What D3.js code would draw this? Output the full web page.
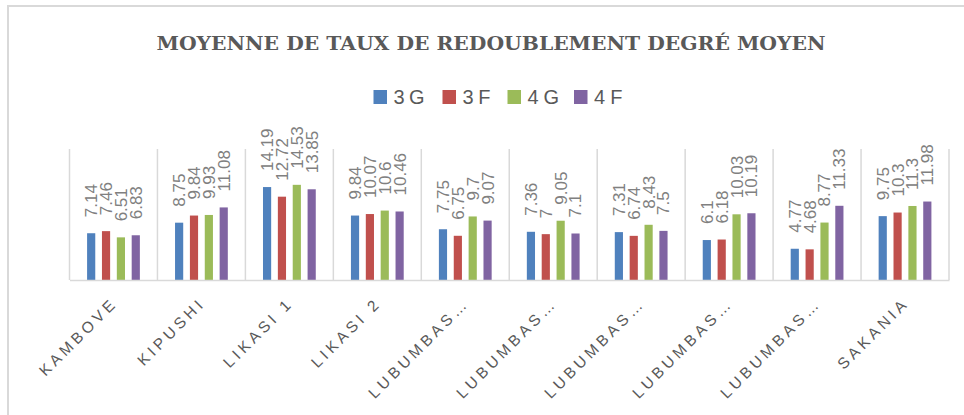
<!DOCTYPE html>
<html>
<head>
<meta charset="utf-8">
<script src="https://cdn.jsdelivr.net/npm/d3@7"></script>
<style>
  body { margin: 0; background: #ffffff; }
</style>
</head>
<body>
<div id="canvas"></div>
<script>
"use strict"

let categories = ["KAMBOVE", "KIPUSHI", "LIKASI 1", "LIKASI 2", "LUBUMBASHI 1",
    "LUBUMBASHI 2", "LUBUMBASHI 3", "LUBUMBASHI 4", "LUBUMBASHI 5", "SAKANIA"]
let seriesNames = ["3 G", "3 F", "4 G", "4 F"]
let values3G = [7.14, 8.75, 14.19, 9.84, 7.75, 7.36, 7.31, 6.1, 4.77, 9.75]
let values3F = [7.46, 9.84, 12.72, 10.07, 6.75, 7, 6.74, 6.18, 4.68, 10.3]
let values4G = [6.51, 9.93, 14.53, 10.6, 9.7, 9.05, 8.43, 10.03, 8.77, 11.3]
let values4F = [6.83, 11.08, 13.85, 10.46, 9.07, 7.1, 7.5, 10.19, 11.33, 11.98]
let colors = ["#4f81bd", "#c0504d", "#9bbb59", "#8064a2"]

let allSeries = [values3G, values3F, values4G, values4F]

let svgWidth = 964
let svgHeight = 415

let drawing = d3.select("#canvas")
    .append("svg")
    .attr("width", svgWidth)
    .attr("height", svgHeight)

let border = drawing.append("rect")
    .attr("x", 8)
    .attr("y", 6)
    .attr("width", svgWidth + 20)
    .attr("height", svgHeight + 20)
    .attr("fill", "white")
    .attr("stroke", "#d9d9d9")
    .attr("stroke-width", 2)

// plot area
let plotLeft = 69.5, plotRight = 949, plotTop = 149, plotBottom = 280

let x0 = d3.scaleBand().domain(categories).range([plotLeft, plotRight]).padding(0)
let x1 = d3.scaleBand().domain(seriesNames)
    .range([x0.bandwidth() * 0.2, x0.bandwidth() * 0.8])
    .paddingInner(0.45)
let y = d3.scaleLinear().domain([0, 20]).range([plotBottom, plotTop])

// category separators
let seps = d3.range(categories.length + 1)
drawing.append("g").selectAll("line")
    .data(seps)
    .join("line")
    .attr("x1", d => plotLeft + d * x0.step())
    .attr("x2", d => plotLeft + d * x0.step())
    .attr("y1", plotTop)
    .attr("y2", plotBottom)
    .attr("stroke", "#d9d9d9")
    .attr("stroke-width", 1.5)

// bars
let groups = drawing.append("g").selectAll("g")
    .data(categories)
    .join("g")
    .attr("transform", d => `translate(${x0(d)},0)`)

groups.selectAll("rect")
    .data((c, i) => seriesNames.map((s, k) => ({ s: s, k: k, v: allSeries[k][i] })))
    .join("rect")
    .attr("x", d => x1(d.s))
    .attr("y", d => y(d.v))
    .attr("width", x1.bandwidth())
    .attr("height", d => y(0) - y(d.v))
    .attr("fill", d => colors[d.k])

// value labels, rotated
groups.selectAll("text")
    .data((c, i) => seriesNames.map((s, k) => ({ s: s, k: k, v: allSeries[k][i] })))
    .join("text")
    .attr("transform", d => `translate(${x1(d.s) + x1.bandwidth() / 2},${y(d.v) - 16}) rotate(-90)`)
    .attr("dy", "0.35em")
    .attr("text-anchor", "start")
    .attr("font-family", "Liberation Sans, Arial, sans-serif")
    .attr("font-size", 17)
    .attr("fill", "#808080")
    .text(d => d.v)

// baseline
let xAxis = drawing.append("g")
    .attr("transform", `translate(0,${plotBottom})`)
    .call(d3.axisBottom(x0).tickSize(0).tickFormat(d => d.length > 10 ? "LUBUMBAS…" : d))

xAxis.select(".domain")
    .attr("stroke", "#d9d9d9")
    .attr("stroke-width", 1.5)

xAxis.selectAll("text")
    .attr("transform", "translate(5,24) rotate(-45)")
    .attr("text-anchor", "end")
    .attr("dy", "0")
    .attr("y", 0)
    .attr("font-family", "Liberation Sans, Arial, sans-serif")
    .attr("font-size", 15.5)
    .attr("letter-spacing", 3.8)
    .attr("fill", "#595959")

// title
let title = drawing.append("text")
    .attr("x", 491)
    .attr("y", 50)
    .attr("text-anchor", "middle")
    .attr("font-family", "DejaVu Serif, serif")
    .attr("font-weight", "bold")
    .attr("font-size", 19)
    .attr("textLength", 669)
    .attr("lengthAdjust", "spacingAndGlyphs")
    .attr("fill", "#595959")
    .text("MOYENNE DE TAUX DE REDOUBLEMENT DEGRÉ MOYEN")

// legend
let legendX = [373.5, 442.5, 507.5, 574]
let legendW = [31, 28, 31.5, 28.5]
let legend = drawing.append("g").selectAll("g")
    .data(seriesNames)
    .join("g")
    .attr("transform", (d, i) => `translate(${legendX[i]},90)`)

legend.append("rect")
    .attr("width", 13.5)
    .attr("height", 14)
    .attr("fill", (d, i) => colors[i])

legend.append("text")
    .attr("x", 20)
    .attr("y", 14)
    .attr("font-family", "Liberation Sans Narrow, Liberation Sans, sans-serif")
    .attr("font-size", 20)
    .attr("textLength", (d, i) => legendW[i])
    .attr("lengthAdjust", "spacing")
    .attr("fill", "#595959")
    .text(d => d)
</script>
</body>
</html>
